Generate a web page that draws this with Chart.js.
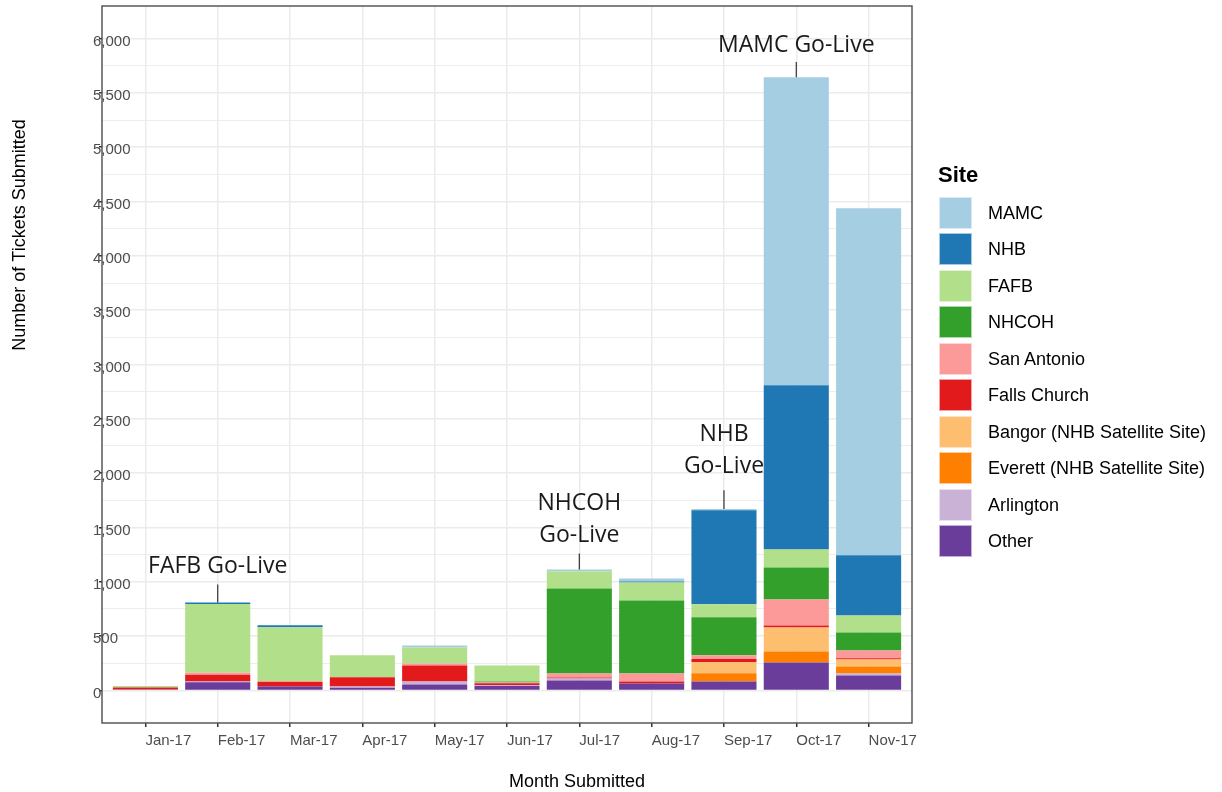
<!DOCTYPE html>
<html>
<head>
<meta charset="utf-8">
<script src="https://cdn.jsdelivr.net/npm/chart.js@4.4.0/dist/chart.umd.min.js"></script>
<style>
html,body{margin:0;padding:0;background:#fff;}
#wrap{position:relative;width:1222px;height:792px;overflow:hidden;}
#c{position:absolute;left:0;top:0;}
#legend{position:absolute;left:0;top:0;width:1222px;height:792px;pointer-events:none;font-family:"Liberation Sans",Arial,sans-serif;}
.lg-title{position:absolute;left:938px;top:164px;font-size:22px;line-height:22px;font-weight:bold;color:#000;white-space:nowrap;}
.lg-box{position:absolute;left:939px;width:33px;height:32px;box-sizing:border-box;}
.lg-text{position:absolute;left:988px;font-size:18px;line-height:20px;color:#000;white-space:nowrap;}
</style>
</head>
<body>
<div id="wrap">
<canvas id="c" width="1222" height="792"></canvas>
<div id="legend"></div>
</div>
<script>
// ---------- data ----------
const months = ['Jan-17','Feb-17','Mar-17','Apr-17','May-17','Jun-17','Jul-17','Aug-17','Sep-17','Oct-17','Nov-17'];
const mamc        = [0, 0, 0, 0, 18, 0, 18, 28, 12, 2837, 3196];
const nhb         = [0, 14, 18, 0, 0, 0, 0, 9, 866, 1510, 553];
const fafb        = [14, 632, 495, 203, 147, 147, 157, 166, 120, 166, 157];
const nhcoh       = [0, 0, 0, 0, 0, 9, 783, 672, 350, 295, 166];
const sanAntonio  = [0, 18, 9, 0, 18, 6, 37, 74, 34, 239, 71];
const fallsChurch = [18, 62, 40, 83, 147, 18, 9, 18, 28, 18, 12];
const bangor      = [0, 0, 0, 0, 0, 0, 0, 0, 104, 221, 64];
const everett     = [0, 0, 0, 0, 0, 0, 0, 0, 74, 101, 64];
const arlington   = [0, 9, 0, 12, 28, 9, 18, 0, 0, 0, 18];
const other       = [8, 74, 37, 25, 55, 40, 92, 64, 83, 258, 138];

const siteNames = ['MAMC','NHB','FAFB','NHCOH','San Antonio','Falls Church','Bangor (NHB Satellite Site)','Everett (NHB Satellite Site)','Arlington','Other'];
const siteValues = [mamc, nhb, fafb, nhcoh, sanAntonio, fallsChurch, bangor, everett, arlington, other];

const yTickValues = [];
for (let v = 0; v <= 6000; v += 250) yTickValues.push(v);

// annotations: month, text lines, segment end value, text block centre value
const annotations = [
  {month:'Feb-17', lines:['FAFB Go-Live'], segEnd:976, textAt:1160},
  {month:'Jul-17', lines:['NHCOH','Go-Live'], segEnd:1260, textAt:1590},
  {month:'Sep-17', lines:['NHB','Go-Live'], segEnd:1842, textAt:2220},
  {month:'Oct-17', lines:['MAMC Go-Live'], segEnd:5784, textAt:5956}
];

// ---------- styles ----------
const colors = ['#A6CEE3','#1F78B4','#B2DF8A','#33A02C','#FB9A99','#E31A1C','#FDBF6F','#FF7F00','#CAB2D6','#6A3D9A'];
const FONT = '"Liberation Sans", Arial, sans-serif';

// bottom-of-stack first
const datasets = [];
for (let k = siteNames.length - 1; k >= 0; k--) {
  datasets.push({
    label: siteNames[k],
    data: siteValues[k].map((v, i) => ({x: i + 1, y: v})),
    backgroundColor: colors[k],
    borderWidth: 0,
    categoryPercentage: 0.9,
    barPercentage: 1.0
  });
}

const totals = months.map((m, i) => siteValues.reduce((s, arr) => s + arr[i], 0));

const decor = {
  id: 'decor',
  afterDatasetsDraw(chart) {
    const ctx = chart.ctx, xs = chart.scales.x, ys = chart.scales.y;
    ctx.save();
    annotations.forEach(a => {
      const i = months.indexOf(a.month);
      const px = xs.getPixelForValue(i + 1);
      const yTop = ys.getPixelForValue(totals[i]);
      const yEnd = ys.getPixelForValue(a.segEnd);
      ctx.strokeStyle = '#333333';
      ctx.lineWidth = 1.2;
      ctx.beginPath();
      ctx.moveTo(px, yTop);
      ctx.lineTo(px, yEnd);
      ctx.stroke();
      const fs = 23;
      ctx.font = fs + 'px "Open Sans", "Noto Sans", sans-serif';
      ctx.fillStyle = '#1a1a1a';
      ctx.textAlign = 'center';
      ctx.textBaseline = 'alphabetic';
      const c = ys.getPixelForValue(a.textAt);
      const lh = 32;
      const n = a.lines.length;
      a.lines.forEach((t, j) => {
        const capCenter = c + (j - (n - 1) / 2) * lh;
        ctx.fillText(t, px, capCenter + 0.714 * fs / 2);
      });
    });
    ctx.restore();
  },
  afterDraw(chart) {
    const ctx = chart.ctx, ca = chart.chartArea;
    ctx.save();
    ctx.strokeStyle = '#4d4d4d';
    ctx.lineWidth = 1.4;
    ctx.strokeRect(ca.left, ca.top, ca.right - ca.left, ca.bottom - ca.top);
    ctx.fillStyle = '#000';
    ctx.font = '18px ' + FONT;
    ctx.textAlign = 'center';
    ctx.textBaseline = 'alphabetic';
    ctx.fillText('Month Submitted', 577, 787);
    ctx.translate(25, 235);
    ctx.rotate(-Math.PI / 2);
    ctx.fillText('Number of Tickets Submitted', 0, 0);
    ctx.restore();
  }
};

const chart = new Chart(document.getElementById('c'), {
  type: 'bar',
  data: {datasets},
  plugins: [decor],
  options: {
    responsive: false,
    animation: false,
    devicePixelRatio: 1,
    layout: {padding: {left: 99, right: 310, top: 6, bottom: 42}},
    plugins: {legend: {display: false}, tooltip: {enabled: false}},
    scales: {
      x: {
        type: 'linear', stacked: true, min: 0.4, max: 11.6, offset: false,
        afterBuildTicks: s => { s.ticks = months.map((m, i) => ({value: i + 1})); },
        afterFit: s => { s.height = 27; },
        ticks: {autoSkip: false, maxRotation: 0, minRotation: 0, align: 'start', padding: 5,
          color: '#4d4d4d', font: {family: FONT, size: 15},
          callback: v => months[Math.round(v) - 1]},
        grid: {offset: false, color: '#ebebeb', lineWidth: 1.5, tickColor: '#333333', tickLength: 4, drawTicks: true},
        border: {display: false}
      },
      y: {
        stacked: true, min: -300, max: 6300,
        afterBuildTicks: s => { s.ticks = yTickValues.map(v => ({value: v})); },
        afterFit: s => { s.width = 3; },
        ticks: {mirror: true, padding: -9, labelOffset: 3, crossAlign: 'near',
          color: '#4d4d4d', font: {family: FONT, size: 15},
          callback: v => (v % 500 === 0 ? v.toLocaleString('en-US') : '')},
        grid: {
          offset: false,
          color: '#ebebeb',
          lineWidth: c => (c.tick && c.tick.value % 500 === 0 ? 1.5 : 0.9),
          tickColor: c => (c.tick && c.tick.value % 500 === 0 ? '#333333' : 'rgba(0,0,0,0)'),
          tickLength: 3, drawTicks: true
        },
        border: {display: false}
      }
    }
  }
});

// legend (from the chart's datasets, top-of-stack first)
const lg = document.getElementById('legend');
const title = document.createElement('div');
title.className = 'lg-title';
title.textContent = 'Site';
lg.appendChild(title);
const items = chart.data.datasets.slice().reverse();
items.forEach((ds, i) => {
  const top = 196.7 + 36.5 * i;
  const b = document.createElement('div');
  b.className = 'lg-box';
  b.style.top = top + 'px';
  b.style.background = ds.backgroundColor;
  b.style.border = '1px solid rgba(255,255,255,0.6)';
  lg.appendChild(b);
  const t = document.createElement('div');
  t.className = 'lg-text';
  t.style.top = (top + 16 - 10) + 'px';
  t.textContent = ds.label;
  lg.appendChild(t);
});
</script>
</body>
</html>
